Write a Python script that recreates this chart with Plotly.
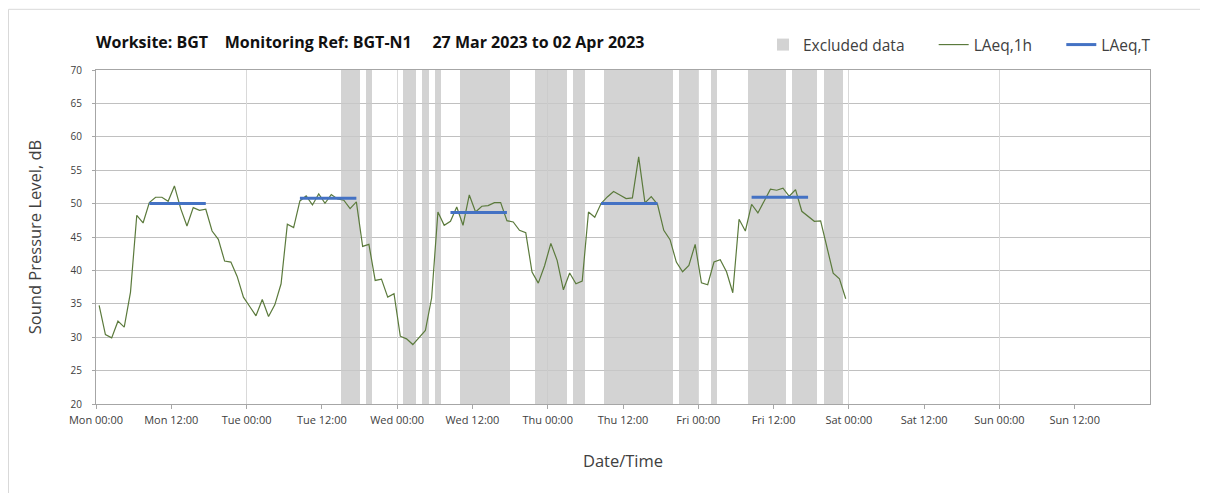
import pandas as pd
import plotly.graph_objects as go

# ---------------- data ----------------
start_time = "2023-03-27 00:00"
end_time = "2023-04-03 00:00"

# hourly LAeq,1h (dB), Mon 00:00 .. Fri 23:00
laeq_1h = [
    34.75, 30.4, 29.9, 32.4, 31.5, 36.75, 48.25, 47.1, 50.15, 50.95, 50.95, 50.35,
    52.65, 49.25, 46.65, 49.4, 49.0, 49.15, 45.9, 44.65, 41.4, 41.25, 39.1, 36.0,
    34.6, 33.2, 35.65, 33.1, 34.85, 38.0, 46.9, 46.4, 50.4, 51.15, 49.8, 51.45,
    50.05, 51.35, 50.7, 50.5, 49.25, 50.25, 43.6, 43.9, 38.5, 38.7, 36.0, 36.5,
    30.15, 29.75, 28.9, 30.0, 31.0, 35.9, 48.75, 46.75, 47.35, 49.5, 46.75, 51.3,
    48.75, 49.6, 49.7, 50.15, 50.15, 47.45, 47.25, 46.0, 45.65, 39.75, 38.1, 40.7,
    44.05, 41.5, 37.1, 39.6, 38.0, 38.4, 48.75, 47.95, 50.0, 51.0, 51.8, 51.3,
    50.75, 50.85, 57.0, 50.1, 51.05, 49.9, 46.0, 44.6, 41.25, 39.8, 40.75, 43.9,
    38.15, 37.85, 41.25, 41.6, 39.8, 36.65, 47.65, 45.9, 49.9, 48.6, 50.5, 52.15,
    52.0, 52.3, 51.1, 52.1, 48.85, 48.1, 47.35, 47.4, 43.5, 39.6, 38.75, 35.75,
]

# hours (index from Mon 00:00) flagged as excluded data
excluded_hours = [39, 40, 41, 43, 49, 50, 52, 54,
                  58, 59, 60, 61, 62, 63, 64, 65,
                  70, 71, 72, 73, 74, 76, 77,
                  81, 82, 83, 84, 85, 86, 87, 88, 89, 90, 91,
                  93, 94, 95, 98,
                  104, 105, 106, 107, 108, 109,
                  111, 112, 113, 114, 116, 117, 118]

# LAeq,T daytime periods (first hour, last hour) and levels
laeq_t_first = [8, 32, 56, 80, 104]
laeq_t_last = [17, 41, 65, 89, 113]
laeq_t_values = [50.0, 50.8, 48.65, 50.0, 50.95]

tick_labels = ["Mon 00:00", "Mon 12:00", "Tue 00:00", "Tue 12:00", "Wed 00:00",
               "Wed 12:00", "Thu 00:00", "Thu 12:00", "Fri 00:00", "Fri 12:00",
               "Sat 00:00", "Sat 12:00", "Sun 00:00", "Sun 12:00"]

y_min, y_max, y_step = 20, 70, 5

# ---------------- derived ----------------
t0 = pd.Timestamp(start_time)
hour = pd.Timedelta(hours=1)
half = pd.Timedelta(minutes=30)
times = [t0 + i * hour + half for i in range(len(laeq_1h))]
excl_times = [t0 + h * hour + half for h in excluded_hours]
tick_vals = [t0 + i * 12 * hour for i in range(len(tick_labels))]
day_vals = [t0 + i * 24 * hour for i in range(8)]

lt_x, lt_y = [], []
for a, b, v in zip(laeq_t_first, laeq_t_last, laeq_t_values):
    lt_x += [t0 + a * hour + half, t0 + b * hour + half, None]
    lt_y += [v, v, None]

# page has an 8px body margin -> figure is offset by 8px
W, H = 1200, 485
ML, MR, MT, MB = 88, 58, 62, 89
PW, PH = W - ML - MR, H - MT - MB

font_family = "'Open Sans', Lato, sans-serif"
txt = "#404040"
pad = "\u00a0" * 6

fig = go.Figure()
fig.add_bar(
    x=excl_times, y=[y_max - y_min] * len(excl_times), base=y_min,
    width=3600000, name="Excluded data" + pad,
    marker=dict(color="rgba(200,200,200,0.8)", line=dict(width=0)),
    hoverinfo="skip",
)
fig.add_scatter(
    x=times, y=laeq_1h, mode="lines", name="LAeq,1h" + pad,
    line=dict(color="#5b7a3c", width=1.2),
)
fig.add_scatter(
    x=lt_x, y=lt_y, mode="lines", name="LAeq,T",
    line=dict(color="#4472c4", width=3),
)
# helper trace for the day gridlines axis
fig.add_scatter(x=[], y=[], xaxis="x2", showlegend=False, hoverinfo="skip")

fig.update_layout(
    width=W, height=H,
    margin=dict(l=ML, r=MR, t=MT, b=MB, autoexpand=False),
    paper_bgcolor="white", plot_bgcolor="white",
    font=dict(family=font_family, color=txt),
    bargap=0,
    showlegend=True,
    title=dict(
        text="<b>Worksite: BGT\u00a0\u00a0\u00a0 Monitoring Ref: BGT-N1\u00a0\u00a0\u00a0\u00a0 27 Mar 2023 to 02 Apr 2023</b>",
        x=ML / W, xanchor="left", xref="container",
        y=1 - 34 / H, yanchor="middle", yref="container",
        font=dict(size=16, color="#111111", family=font_family),
    ),
    legend=dict(
        orientation="h", x=(755 - ML) / PW, xanchor="left",
        y=1 + 25 / PH, yanchor="middle",
        font=dict(size=15.5, color=txt), bgcolor="rgba(0,0,0,0)",
        traceorder="normal",
    ),
    xaxis=dict(
        type="date", range=[t0, pd.Timestamp(end_time)],
        tickmode="array", tickvals=tick_vals, ticktext=tick_labels,
        ticks="outside", ticklen=4, tickcolor="#a6a6a6", tickwidth=1,
        tickfont=dict(size=11, color=txt), ticklabelstandoff=2,
        showgrid=False, zeroline=False,
        showline=True, linecolor="#a6a6a6", linewidth=1.2, mirror=True,
        title=dict(text="Date/Time", font=dict(size=16.5, color=txt), standoff=29),
    ),
    xaxis2=dict(
        type="date", range=[t0, pd.Timestamp(end_time)], overlaying="x", anchor="y",
        tickmode="array", tickvals=day_vals, showticklabels=False, ticks="",
        showgrid=True, gridcolor="#d9d9d9", gridwidth=1, showline=False, zeroline=False,
    ),
    yaxis=dict(
        range=[y_min, y_max], dtick=y_step, tick0=y_min,
        ticks="outside", ticklen=3, tickcolor="#a6a6a6",
        tickfont=dict(size=10, color=txt), ticklabelstandoff=8,
        showgrid=True, gridcolor="#c0c0c0", gridwidth=1, zeroline=False,
        showline=True, linecolor="#a6a6a6", linewidth=1.2, mirror=True,
        title=dict(text="Sound Pressure Level, dB", font=dict(size=16.5, color=txt), standoff=24),
    ),
    shapes=[
        dict(type="line", xref="paper", yref="paper",
             x0=(0.5 - ML) / PW, x1=(0.5 - ML) / PW,
             y0=(PH + MT - 1.3) / PH, y1=(PH + MT - H) / PH,
             line=dict(color="#d9d9d9", width=1)),
        dict(type="line", xref="paper", yref="paper",
             x0=(0.5 - ML) / PW, x1=(W - ML) / PW,
             y0=(PH + MT - 1.3) / PH, y1=(PH + MT - 1.3) / PH,
             line=dict(color="#d9d9d9", width=1)),
    ],
)

fig.write_html("out.html")
